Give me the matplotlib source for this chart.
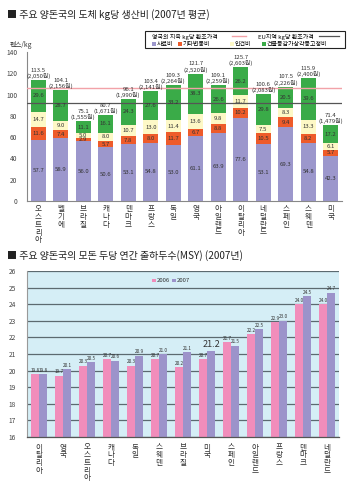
import matplotlib
matplotlib.use("Agg")
import matplotlib.pyplot as plt
from matplotlib.patches import Rectangle
from matplotlib.lines import Line2D
import numpy as np

plt.rcParams['font.family'] = ['Noto Sans CJK KR', 'DejaVu Sans']

# ---------- data: chart 1 ----------
countries1 = ['오스트리아', '벨기에', '브라질', '캐나다', '덴마크', '프랑스', '독일',
              '영국', '아일랜드', '이탈리아', '네덜란드', '스페인', '스웨덴', '미국']
feed = [57.7, 58.9, 56.0, 50.6, 53.1, 54.8, 53.0, 61.1, 63.9, 77.6, 53.1, 69.3, 54.8, 42.3]
other_var = [11.6, 7.4, 2.9, 5.7, 7.8, 8.0, 11.7, 6.7, 8.8, 10.2, 10.5, 9.4, 8.2, 5.7]
labor = [14.7, 9.0, 5.0, 8.0, 10.7, 13.0, 11.4, 13.6, 9.8, 11.7, 7.5, 8.3, 13.3, 6.1]
fixed = [29.6, 28.7, 11.1, 16.1, 24.3, 27.6, 33.2, 38.3, 26.6, 26.2, 29.8, 20.5, 39.6, 17.2]
totals = [113.5, 104.1, 75.1, 80.7, 96.1, 103.4, 109.3, 121.7, 109.1, 125.7, 100.6, 107.5, 115.9, 71.4]
won = ['2,050', '2,156', '1,555', '1,671', '1,990', '2,141', '2,264', '2,520', '2,259',
       '2,603', '2,083', '2,226', '2,400', '1,479']
uk_price = 106.3
eu_price = 91.7
series_names1 = ['사료비', '기타변동비', '인건비', '건물등감가상각등고정비']

# ---------- data: chart 2 ----------
countries2 = ['이탈리아', '영국', '오스트리아', '캐나다', '독일', '스웨덴', '브라질',
              '미국', '스페인', '아일랜드', '프랑스', '덴마크', '네덜란드']
msy2006 = [19.8, 19.7, 20.3, 20.7, 20.3, 20.7, 20.2, 20.7, 21.7, 22.2, 22.9, 24.0, 24.0]
msy2007 = [19.8, 20.1, 20.5, 20.6, 20.9, 21.0, 21.1, 21.2, 21.5, 22.5, 23.0, 24.5, 24.7]
years = ['2006', '2007']

W, H = 350, 486
fig = plt.figure(figsize=(W / 100, H / 100), dpi=100)

def fx(px):
    return px / W

def fy(py):
    return 1 - py / H

# ---------- titles ----------
fig.text(fx(7), fy(15), '■ 주요 양돈국의 도체 kg당 생산비 (2007년 평균)', fontsize=7.2,
         va='center', ha='left', color='#222222')
fig.text(fx(7), fy(256), '■ 주요 양돈국의 모돈 두당 연간 출하두수(MSY) (2007년)', fontsize=7.2,
         va='center', ha='left', color='#222222')

# ---------- chart 1 ----------
c_feed = '#9c97cc'
c_other = '#ee5b2a'
c_labor = '#fdf8c6'
c_fixed = '#3aab48'
c_uk = '#f2a2a8'
c_eu = '#555555'

ax1 = fig.add_axes([fx(27), fy(201), fx(342) - fx(27), fy(52) - fy(201)])
x = np.arange(len(countries1))
bw = 0.66
segs = [feed, other_var, labor, fixed]
cols = [c_feed, c_other, c_labor, c_fixed]
bottom = np.zeros(len(x))
for vals, col in zip(segs, cols):
    v = np.array(vals)
    ax1.bar(x, v, bw, bottom=bottom, color=col, zorder=2, linewidth=0)
    for xi, b, vi in zip(x, bottom, v):
        ax1.text(xi, b + vi / 2, f'{vi:.1f}', ha='center', va='center', fontsize=4.3,
                 color='#333333', zorder=4)
    bottom = bottom + v

for xi, top, t, w in zip(x, bottom, totals, won):
    ax1.text(xi, top + 1.0, f'{t:.1f}\n({w}원)', ha='center', va='bottom', fontsize=4.3,
             color='#333333', linespacing=1.0, zorder=4)

ax1.axhline(uk_price, color=c_uk, lw=1.0, zorder=3)
ax1.axhline(eu_price, color=c_eu, lw=0.9, zorder=3)

ax1.set_xlim(-0.5, len(x) - 0.5)
ax1.set_ylim(0, 140)
ax1.set_yticks(np.arange(0, 141, 20))
ax1.tick_params(axis='y', labelsize=4.8, length=0, pad=7, colors='#444444')
ax1.set_xticks([])
for s in ['top', 'right']:
    ax1.spines[s].set_visible(False)
ax1.spines['left'].set_color('#888888')
ax1.spines['left'].set_linewidth(0.8)
ax1.spines['bottom'].set_color('#888888')
ax1.spines['bottom'].set_linewidth(0.8)
for xi, name in zip(x, countries1):
    ax1.text(xi, -0.03, '\n'.join(name), transform=ax1.get_xaxis_transform(),
             ha='center', va='top', fontsize=5.5, linespacing=0.95, color='#333333')

fig.text(fx(10), fy(45), '펜스/kg', fontsize=4.8, ha='left', va='center', color='#333333')

# legend box for chart 1
fig.patches.append(Rectangle((fx(145), fy(48)), fx(345) - fx(145), fy(31) - fy(48),
                             transform=fig.transFigure, fill=False, edgecolor='#222222', lw=0.8))
fig.text(fx(152), fy(36.5), '영국의 지육 kg당 환조가격', fontsize=4.3, ha='left', va='center')
fig.lines.append(Line2D([fx(232), fx(246)], [fy(36.5), fy(36.5)], transform=fig.transFigure,
                        color=c_uk, lw=1.0))
fig.text(fx(258), fy(36.5), 'EU지역 kg당 환조가격', fontsize=4.3, ha='left', va='center')
fig.lines.append(Line2D([fx(319), fx(339)], [fy(36.5), fy(36.5)], transform=fig.transFigure,
                        color=c_eu, lw=0.9))
leg_x = [152, 178, 230, 262]
for lx, name, col in zip(leg_x, series_names1, cols):
    fig.patches.append(Rectangle((fx(lx), fy(46)), fx(4), fy(42) - fy(46),
                                 transform=fig.transFigure, facecolor=col,
                                 edgecolor='none'))
    fig.text(fx(lx + 5), fy(44), name, fontsize=4.3, ha='left', va='center')

# ---------- chart 2 ----------
c06 = '#f18dbb'
c07 = '#9c93ca'
ax2 = fig.add_axes([fx(27), fy(437), fx(339) - fx(27), fy(271) - fy(437)])
ax2.set_facecolor('#d5eef6')
x2 = np.arange(len(countries2))
bw2 = 1 / 3
ax2.bar(x2 - bw2 / 2, np.array(msy2006) - 16, bw2, bottom=16, color=c06, zorder=2, linewidth=0)
ax2.bar(x2 + bw2 / 2, np.array(msy2007) - 16, bw2, bottom=16, color=c07, zorder=2, linewidth=0)
for xi, a, b in zip(x2, msy2006, msy2007):
    ax2.text(xi - bw2 / 2, a + 0.08, f'{a:.1f}', ha='center', va='bottom', fontsize=3.4,
             color='#333333', zorder=4)
    fs = 6.5 if countries2[xi] == '미국' else 3.4
    ax2.text(xi + bw2 / 2 + (0.04 if fs > 4 else 0), b + 0.08, f'{b:.1f}', ha='center',
             va='bottom', fontsize=fs, color='#333333', zorder=4)
ax2.set_xlim(-0.5, len(x2) - 0.5)
ax2.set_ylim(16, 26)
ax2.set_yticks(np.arange(16, 27, 1))
ax2.yaxis.grid(True, color='#5c6a70', lw=0.9, zorder=1)
ax2.set_axisbelow(True)
ax2.tick_params(axis='y', labelsize=4.8, length=0, pad=8, colors='#444444')
ax2.set_xticks([])
for s in ['top', 'right']:
    ax2.spines[s].set_visible(False)
ax2.spines['left'].set_color('#999999')
ax2.spines['bottom'].set_color('#555555')
ax2.spines['bottom'].set_linewidth(0.9)
for xi, name in zip(x2, countries2):
    ax2.text(xi, -0.04, '\n'.join(name), transform=ax2.get_xaxis_transform(),
             ha='center', va='top', fontsize=5.5, linespacing=0.95, color='#333333')

# legend chart 2
for lx, yr, col in zip([152, 172], years, [c06, c07]):
    fig.patches.append(Rectangle((fx(lx), fy(282)), fx(3.5), fy(278.5) - fy(282),
                                 transform=fig.transFigure, facecolor=col, edgecolor='none'))
    fig.text(fx(lx + 5), fy(280), yr, fontsize=4.3, ha='left', va='center', color='#333333')

fig.savefig('out.png', dpi=100)
